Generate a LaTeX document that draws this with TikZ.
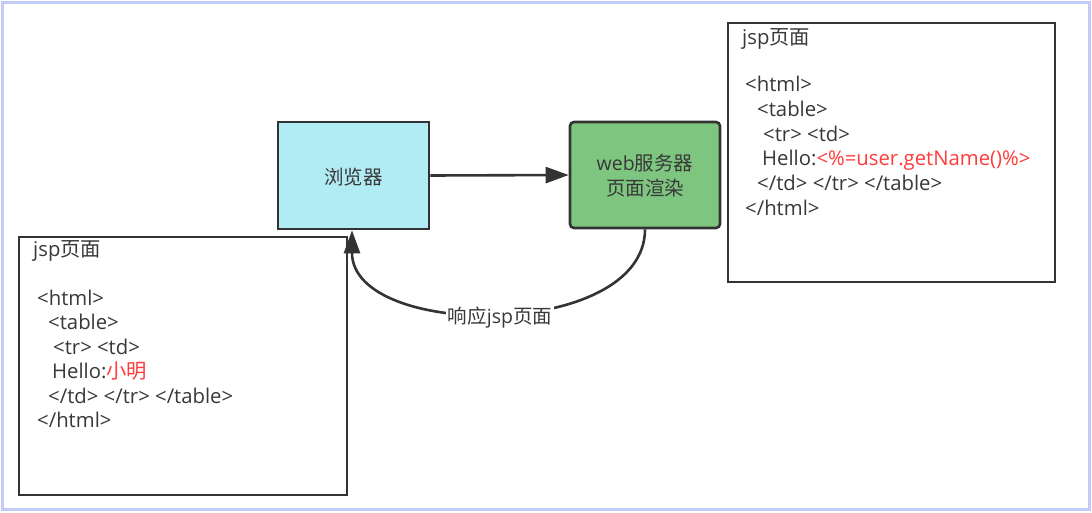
\documentclass[tikz,border=0pt]{standalone}
\usepackage{fontspec}
\setmainfont{Open Sans}
\newfontfamily\cjk{Noto Sans CJK SC}
\usetikzlibrary{arrows.meta}
\definecolor{txt}{HTML}{383838}
\definecolor{redt}{HTML}{FF3B3B}
\definecolor{edge}{HTML}{333333}
\definecolor{cyanf}{HTML}{B1EBF3}
\definecolor{greenf}{HTML}{7EC680}
\definecolor{frame}{HTML}{C2CBF8}
\tikzset{
  box/.style={draw=edge, line width=2.6pt},
  code/.style={anchor=base west, inner sep=0pt, text=txt, font=\fontsize{20.3}{24}\selectfont},
  lbl/.style={text=txt, font=\fontsize{19.5}{25}\selectfont, align=center, inner sep=1pt},
  conn/.style={draw=edge, line width=2.6pt, -{Triangle[length=23pt,width=16pt]}}
}
\begin{document}
\begin{tikzpicture}[x=1pt,y=-1pt]
\useasboundingbox (0,0) rectangle (1092,512);
\fill[white] (0,0) rectangle (1092,512);
\draw[frame, line width=2.5pt] (2.5,2.5) rectangle (1089.5,509.5);
% main boxes
\node[box, fill=cyanf, minimum width=151pt, minimum height=107pt, inner sep=0pt] (browser) at (353.5,175.5) {};
\node[lbl] (browserlbl) at (353.5,177) {\cjk 浏览器};
\node[box, fill=greenf, rounded corners=4pt, minimum width=150pt, minimum height=106pt, inner sep=0pt] (server) at (645,175) {};
\node[lbl] (serverlbl) at (645,176) {web{\cjk 服务器}\\{\cjk 页面渲染}};
% jsp boxes
\node[box, minimum width=328pt, minimum height=258pt, inner sep=0pt] (jspL) at (183,366) {};
\node[box, minimum width=327pt, minimum height=259pt, inner sep=0pt] (jspR) at (891.5,152.5) {};
% connectors
\draw[conn] (browser.east) -- (server.west);
\draw[conn] (server.south) .. controls (645,340) and (352,340) .. ([xshift=-1.5pt]browser.south);
\node[lbl, fill=white, inner sep=2pt] (resp) at (500,318) {{\cjk 响应}jsp{\cjk 页面}};
% left code
\node[code] (l0) at (33,256) {jsp{\cjk 页面}};
\node[code] (l1) at (37,305) {<html>};
\node[code] (l2) at (48,329) {<table>};
\node[code] (l3) at (53,354) {<tr> <td>};
\node[code] (l4) at (52,378) {Hello:\textcolor{redt}{\cjk 小明}};
\node[code] (l5) at (48,403) {</td> </tr> </table>};
\node[code] (l6) at (37,427) {</html>};
% right code
\node[code] (r0) at (742,44) {jsp{\cjk 页面}};
\node[code] (r1) at (745,91) {<html>};
\node[code] (r2) at (757,116) {<table>};
\node[code] (r3) at (763,141) {<tr> <td>};
\node[code] (r4) at (762,165) {Hello:\textcolor{redt}{<\%=user.getName()\%>}};
\node[code] (r5) at (757,190) {</td> </tr> </table>};
\node[code] (r6) at (745,215) {</html>};
\end{tikzpicture}
\end{document}
